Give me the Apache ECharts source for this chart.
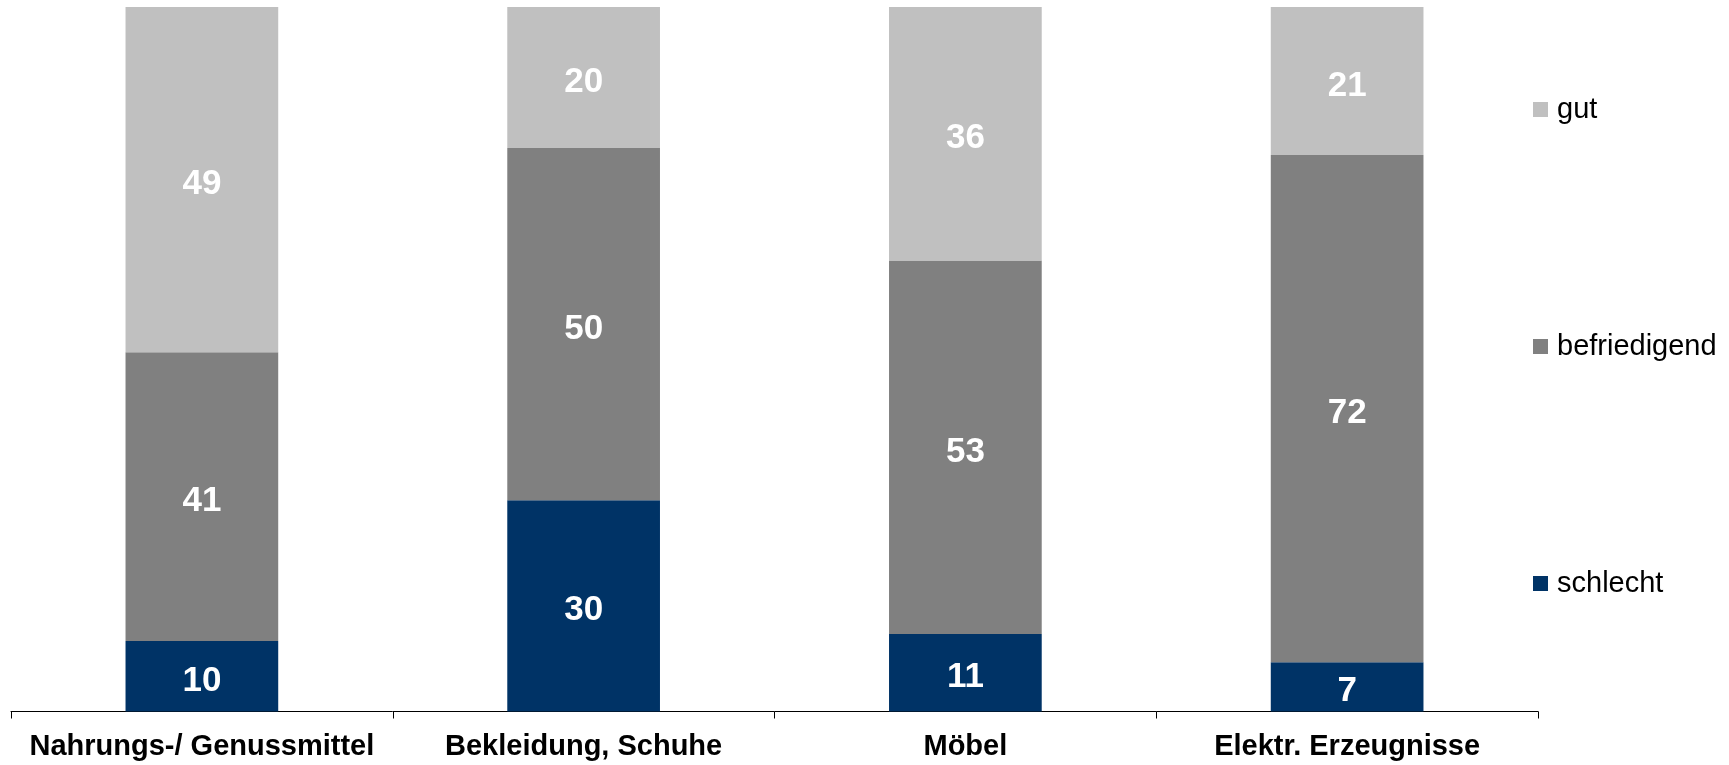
<!DOCTYPE html>
<html>
<head>
<meta charset="utf-8">
<script src="https://cdn.jsdelivr.net/npm/echarts@6/dist/echarts.min.js"></script>
<style>
html,body{margin:0;padding:0;background:#fff;}
#c{width:1729px;height:765px;}
</style>
</head>
<body>
<div id="c"></div>
<script>
const categories = ['Nahrungs-/ Genussmittel', 'Bekleidung, Schuhe', 'Möbel', 'Elektr. Erzeugnisse'];
const schlecht = [10, 30, 11, 7];
const befriedigend = [41, 50, 53, 72];
const gut = [49, 20, 36, 21];
const legendOrder = ['gut', 'befriedigend', 'schlecht'];

const FONT = '"Liberation Sans", Arial, sans-serif';
const chart = echarts.init(document.getElementById('c'), null, {renderer: 'canvas'});

function mk(name, data, color) {
  return {
    name: name,
    type: 'bar',
    stack: 'total',
    data: data,
    barWidth: '40%',
    itemStyle: {color: color},
    label: {
      show: true,
      position: 'inside',
      offset: [0, 5],
      color: '#fff',
      fontFamily: FONT,
      fontWeight: 'bold',
      fontSize: 35
    },
    emphasis: {disabled: true}
  };
}

chart.setOption({
  animation: false,
  backgroundColor: '#fff',
  grid: {left: 11, right: 191, top: 7, bottom: 53.5, containLabel: false},
  legend: {
    orient: 'vertical',
    left: 1528,
    top: 90,
    data: legendOrder,
    icon: 'rect',
    itemWidth: 15,
    itemHeight: 15,
    itemGap: 208,
    selectedMode: false,
    textStyle: {fontFamily: FONT, fontSize: 29, color: '#000', lineHeight: 29, padding: [0, 0, 0, 4]}
  },
  xAxis: {
    type: 'category',
    data: categories,
    boundaryGap: true,
    axisLine: {show: true, lineStyle: {color: '#000', width: 1}},
    axisTick: {show: true, length: 7, lineStyle: {color: '#000', width: 1}},
    axisLabel: {
      interval: 0,
      margin: 21,
      color: '#000',
      fontFamily: FONT,
      fontWeight: 'bold',
      fontSize: 29
    }
  },
  yAxis: {
    type: 'value',
    min: 0,
    max: 100,
    show: false,
    splitLine: {show: false}
  },
  series: [
    mk('schlecht', schlecht, '#003366'),
    mk('befriedigend', befriedigend, '#808080'),
    mk('gut', gut, '#C0C0C0')
  ]
});
</script>
</body>
</html>
